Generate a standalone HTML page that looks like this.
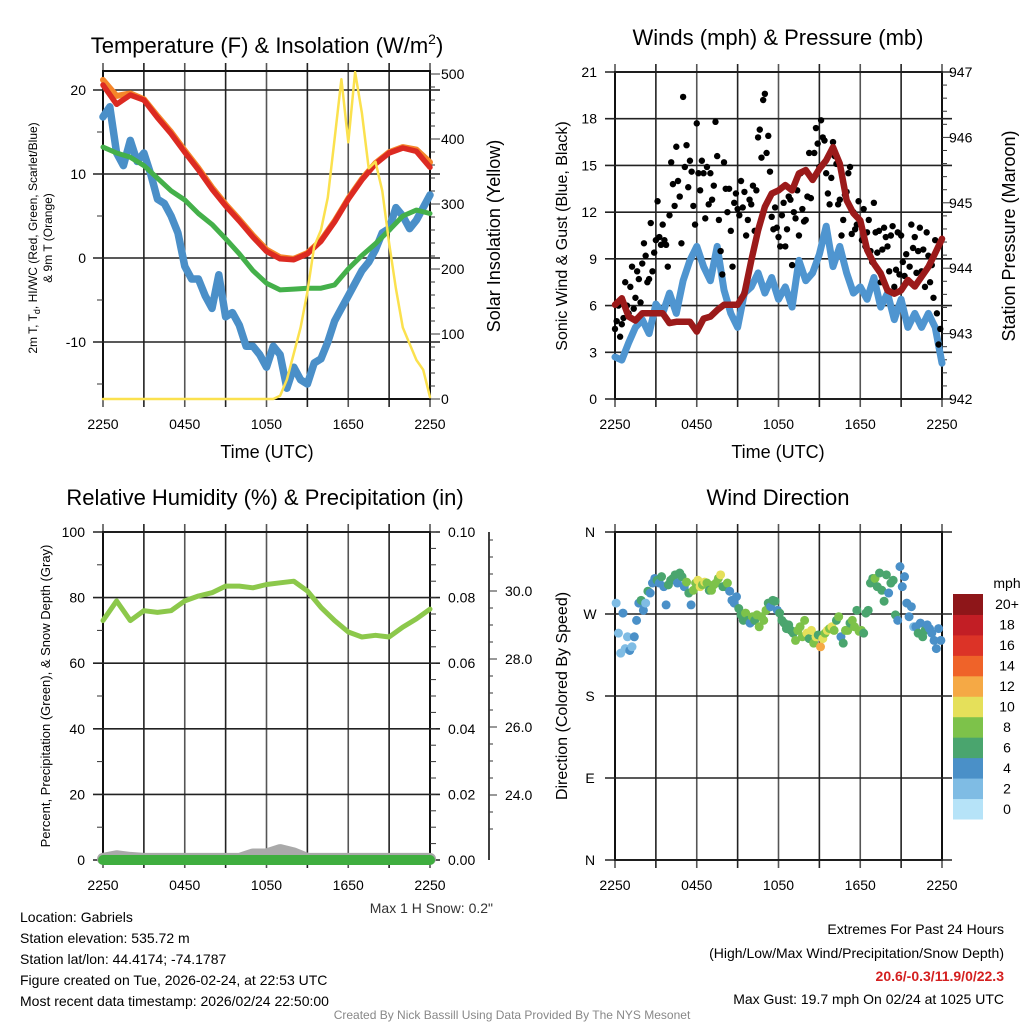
<!DOCTYPE html>
<html><head><meta charset="utf-8"><style>
body{margin:0;background:#fff}
svg{display:block;font-family:"Liberation Sans",sans-serif}
</style></head><body>
<svg id="chart" width="1024" height="1024" viewBox="0 0 1024 1024" xmlns="http://www.w3.org/2000/svg">
<rect x="0" y="0" width="1024" height="1024" fill="#fff"/>
<text x="267" y="53" font-size="22" text-anchor="middle">Temperature (F) &amp; Insolation (W/m<tspan font-size="14" dy="-9">2</tspan><tspan dy="9">)</tspan></text>
<text x="778" y="45" font-size="22" text-anchor="middle">Winds (mph) &amp; Pressure (mb)</text>
<text x="265" y="505" font-size="22" text-anchor="middle">Relative Humidity (%) &amp; Precipitation (in)</text>
<text x="778" y="505" font-size="22" text-anchor="middle">Wind Direction</text>
<text x="267" y="458" font-size="18" text-anchor="middle">Time (UTC)</text>
<text x="778" y="458" font-size="18" text-anchor="middle">Time (UTC)</text>
<text transform="translate(37,238) rotate(-90)" font-size="12" text-anchor="middle">2m T, T<tspan font-size="9" dy="3">d</tspan><tspan dy="-3">, HI/WC (Red, Green, Scarlet/Blue)</tspan></text>
<text transform="translate(52,238) rotate(-90)" font-size="12" text-anchor="middle">&amp; 9m T (Orange)</text>
<text transform="translate(500,236) rotate(-90)" font-size="18" text-anchor="middle">Solar Insolation (Yellow)</text>
<text transform="translate(567,236) rotate(-90)" font-size="16" text-anchor="middle">Sonic Wind &amp; Gust (Blue, Black)</text>
<text transform="translate(1015,236) rotate(-90)" font-size="18" text-anchor="middle">Station Pressure (Maroon)</text>
<text transform="translate(50,696) rotate(-90)" font-size="13" text-anchor="middle">Percent, Precipitation (Green), &amp; Snow Depth (Gray)</text>
<text transform="translate(567,696) rotate(-90)" font-size="16" text-anchor="middle">Direction (Colored By Speed)</text>
<text x="493" y="913" font-size="14" text-anchor="end" fill="#333">Max 1 H Snow: 0.2"</text>
<g font-size="14">
<text x="20" y="922">Location: Gabriels</text>
<text x="20" y="943">Station elevation: 535.72 m</text>
<text x="20" y="964">Station lat/lon: 44.4174; -74.1787</text>
<text x="20" y="985">Figure created on Tue, 2026-02-24, at 22:53 UTC</text>
<text x="20" y="1006">Most recent data timestamp: 2026/02/24 22:50:00</text>
</g>
<g font-size="14" text-anchor="end">
<text x="1004" y="934">Extremes For Past 24 Hours</text>
<text x="1004" y="958">(High/Low/Max Wind/Precipitation/Snow Depth)</text>
<text x="1004" y="981" fill="#d42020" font-weight="bold">20.6/-0.3/11.9/0/22.3</text>
<text x="1004" y="1004">Max Gust: 19.7 mph On 02/24 at 1025 UTC</text>
</g>
<text x="512" y="1019" font-size="12" text-anchor="middle" fill="#888">Created By Nick Bassill Using Data Provided By The NYS Mesonet</text>
</svg>
<script>
const timeLabels = ["2250","0450","1050","1650","2250"];
const tempTicks = [20,10,0,-10];
const solarTicks = [0,100,200,300,400,500];
const windTicks = [0,3,6,9,12,15,18,21];
const presTicks = [942,943,944,945,946,947];
const rhTicks = [0,20,40,60,80,100];
const precipTicks = ["0.00","0.02","0.04","0.06","0.08","0.10"];
const snowTicks = [24,26,28,30];
const dirTicks = ["N","E","S","W","N"];
const speedBins = ["0","2","4","6","8","10","12","14","16","18","20+"];
const speedColors = ["#b6e3f8","#7fbce4","#4a90c8","#4aa56e","#7dc24a","#e5e05a","#f5a945","#ef6329","#dc3327","#c21e25","#8e1619"];

const tempT = [20.6,18.3,19.4,18.8,16.7,14.8,12.6,10.5,8.2,6.2,4.4,2.5,0.8,-0.1,-0.2,0.5,2.0,4.3,7.0,9.3,11.2,12.5,13.1,12.7,10.8];
const temp9m = [21.2,19.3,19.6,18.9,16.9,15.0,12.8,10.7,8.4,6.4,4.6,2.7,1.0,0.1,-0.1,0.6,2.1,4.4,7.1,9.4,11.3,12.6,13.2,12.9,11.4];
const dewT = [13.2,12.5,12.0,11.0,9.5,8.0,6.9,5.3,4.0,2.3,0.5,-1.5,-3.0,-3.8,-3.7,-3.6,-3.6,-3.2,-1.3,0.3,1.7,3.3,5.0,5.7,5.3];
const windChill = [16.8,18.0,12.5,11.0,14.0,11.5,12.5,10.0,7.0,6.5,5.0,3.0,-1.0,-2.5,-2.5,-4.5,-6.0,-2.0,-7.0,-6.5,-8.0,-10.5,-10.5,-11.5,-13.0,-10.5,-11.5,-15.5,-13.0,-14.5,-15.0,-12.5,-12.0,-10.0,-7.5,-6.0,-4.5,-3.0,-1.5,-0.5,1.0,3.0,3.5,6.0,5.0,3.5,4.5,6.0,7.5];
const solar = [0,0,0,0,0,0,0,0,0,0,0,0,0,0,0,0,0,0,0,0,0,0,0,0,0,0,5,30,70,110,165,235,260,310,400,492,395,503,440,355,365,320,240,170,110,85,60,45,3];
const windSpd = [2.7,2.5,3.6,4.6,5.1,4.2,6.1,5.5,6.8,5.5,7.6,8.9,9.8,8.5,7.6,9.8,7.0,5.5,4.6,6.8,7.2,8.1,6.8,7.8,6.4,7.2,5.9,8.9,7.6,8.1,9.3,11.1,8.5,9.8,8.1,6.8,7.2,6.4,7.8,5.9,6.8,5.1,6.4,4.6,5.5,4.6,5.5,4.6,2.3];
const pressure = [943.44,943.54,943.26,943.2,943.31,943.31,943.31,943.31,943.16,943.18,943.18,943.18,943.03,943.23,943.26,943.36,943.44,943.44,943.44,943.61,944.12,944.58,944.94,945.14,945.19,945.27,945.19,945.45,945.5,945.35,945.52,945.65,945.85,945.6,945.04,944.84,944.73,944.28,944.07,943.92,943.66,943.61,943.66,943.82,943.72,943.87,944.02,944.23,944.45];
const gusts = [4.5,5,6,4,4.8,5.2,7.5,6, 5.5,7.2,8.5,5.8,6.5,8.2,7.7,6.2, 8.7,10,9.2,7.5,7.7,11.3,8.2,9.4, 10.2,12.7,10.4,9.9,11.2,10.2,9.9,8.5,
 11.8,15.2,13.8,12.4,16.2,14,13,10, 19.4,14.9,16.3,13.6,15.3,14.6,12.4,11.2, 17.7,14.5,13.4,15.3,14.5,11.6,14.9,12.5, 14.5,12.8,13.7,17.8,15.6,11.5,9.5,8,
 15.2,13.5,12,13.5,10.8,8.5,12.6,13.2, 12.2,11.8,14,12.3,13.3,10.5,11.5,12.8, 12.5,13.7,10.8,13.4,16.8,17.3,15.5,19.2, 19.6,15.8,16.9,14.6,11.7,10.9,12.3,11,
 10.4,9.8,11.8,12.6,9.8,10.9,13,12.8, 8.6,12,11.6,13.4,10.5,14.5,12.2,11.4, 11.5,13,15.8,12.9,14.2,15.8,17.4,16.4, 14.9,17.9,16.8,16.6,14.5,13.2,12.5,14.2,
 16.5,15.6,15.1,12.5,12.8,10.5,11.5,13.1, 13.3,14.5,14.9,10.6,12,10.9,11.2,12.7, 11.3,10.2,12.2,9.8,10.7,11.5,9.5,8.8, 12.6,10.7,9.4,10.8,7.5,9.6,11,10.4,
 9.8,8.2,10.5,11.1,7.2,8.3,10.7,8, 10.5,8.8,7.9,9.3,7.5,8.5,11.2,9.7, 10.4,8.1,9.5,11,8.2,9.6,7.2,10.7, 9.2,7.5,8.6,6.5,10.2,5.5,3.5,4.5];
const rh = [73,79,73,76,75.5,76,79,80.5,81.5,83.5,83.5,83,84,84.5,85,82,77,73,69.5,68,68.5,68,71,73.5,76.5];
const precip = [0,0,0,0,0,0,0,0,0,0,0,0,0,0,0,0,0,0,0,0,0,0,0,0,0];
const snowDepth = [22.12,22.2,22.15,22.12,22.12,22.12,22.12,22.12,22.12,22.12,22.12,22.25,22.25,22.38,22.28,22.12,22.12,22.12,22.12,22.12,22.12,22.12,22.12,22.12,22.12];
const windDir = [282,249,227,271,232,245, 230,234,245,263,282,285, 274,282,295,293,304,309, 307,304,311,300,280,302,
 307,309,313,304,315,311, 300,305,293,280,296,304, 307,300,302,305,304,296, 296,302,304,309,313,300,
 300,304,295,285,282,289, 276,269,263,271,263,260, 267,263,269,256,267,263, 274,282,278,285,284,274,
 271,263,260,254,258,252, 249,241,252,256,245,263, 249,243,252,238,245,247, 234,243,249,252,254,256,
 252,263,267,245,238,252, 252,260,263,256,274,251, 252,249,271,274,304,309, 309,300,315,296,284,313,
 293,304,307,269,263,322, 300,311,282,267,278,256, 256,249,260,245,252,258, 254,249,241,232,254,241];
const dirSpeed = [2,3,2,4,2,2, 4,3,4,4,4,6, 4,2,6,4,4,4, 6,4,6,4,4,6, 6,6,6,4,6,6, 4,8,6,4,8,8, 10,10,8,10,8,6, 8,8,8,8,10,6,
 6,8,4,4,4,4, 6,6,6,8,6,4, 8,6,8,8,8,8, 8,6,4,6,6,4, 6,6,6,6,6,6, 6,8,8,8,8,8, 10,6,10,8,10,6, 12,10,8,10,8,10,
 8,6,8,4,6,8, 8,6,8,8,6,8, 8,6,6,6,6,6, 8,6,6,6,6,6, 4,6,6,6,4,4, 4,4,4,4,4,2, 4,6,4,6,6,4, 4,4,4,4,4,4];

const NS = "http://www.w3.org/2000/svg";
const svg = document.getElementById('chart');
function mk(tag, attrs, parent){
  const e = document.createElementNS(NS, tag);
  for (const k in attrs) e.setAttribute(k, attrs[k]);
  (parent || svg).appendChild(e);
  return e;
}
function txt(x, y, s, anchor, size, parent){
  const t = mk('text', {x:x, y:y, 'text-anchor':anchor, 'font-size':size}, parent);
  t.textContent = s;
  return t;
}
const P1 = {x0:103,x1:430,y0:71,y1:399};
const P2 = {x0:615,x1:942,y0:72,y1:399};
const P3 = {x0:103,x1:430,y0:532,y1:860};
const P4 = {x0:615,x1:942,y0:532,y1:860};
function xScale(P){ return h => P.x0 + h*(P.x1-P.x0)/24; }
const yTemp = v => 258 - 8.4*v;
const ySolar = v => 399 - 0.65*v;
const yWind = v => 399 - v*327/21;
const yPres = v => 399 - (v-942)*65.4;
const yRH = v => 860 - 3.28*v;
const yPrecip = v => 860 - v*3280;
const ySnow = v => 591 + (30-v)*34;
const yDir = v => 860 - v*328/360;

function frame(P, name){
  const g = mk('g', {});
  
  
  for (let i=0;i<=8;i++){
    const x = P.x0 + i*(P.x1-P.x0)/8;
    const l = mk('line', {x1:x, x2:x, y1:P.y0-8, y2:P.y1+8, stroke: i%2? '#222':'#555', 'stroke-width':1.6}, g);
    
    
  }
  const r = mk('rect', {x:P.x0, y:P.y0, width:P.x1-P.x0, height:P.y1-P.y0, fill:'none', stroke:'#111', 'stroke-width':2}, g);
  
  
  const xs = xScale(P);
  timeLabels.forEach((s,i)=>{
    const t = txt(xs(i*6), P.y1+30, s, 'middle', 14, g);
    
    
  });
  return g;
}
function hgrid(P, y, name){
  const l = mk('line', {x1:P.x0-10, x2:P.x1+10, y1:y, y2:y, stroke:'#222', 'stroke-width':1.6});
  
  
}
function tick(x1,x2,y,name){
  const l = mk('line', {x1:x1, x2:x2, y1:y, y2:y, stroke:'#333', 'stroke-width':1});
  
  
}
function series(arr, step, xs, ys, color, w, name){
  const pts = arr.map((v,i)=> xs(i*step).toFixed(1)+','+ys(v).toFixed(1)).join(' ');
  const p = mk('polyline', {points:pts, fill:'none', stroke:color, 'stroke-width':w, 'stroke-linejoin':'round', 'stroke-linecap':'round'});
  
  
  return p;
}

// Panel 1
frame(P1, 'temp-panel');
const x1s = xScale(P1);
tempTicks.forEach(v=>{
  hgrid(P1, yTemp(v), 'temp-hgrid');
  const t = txt(P1.x0-17, yTemp(v)+5, v, 'end', 14);
  
  
});
[15,5,-5,-15].forEach(v=> tick(P1.x0-6, P1.x0, yTemp(v), 'temp-minor-tick'));
for (let v=0; v<=500; v+=20) tick(P1.x1, P1.x1+(v%100===0?10:5), ySolar(v), 'solar-tick');
solarTicks.forEach(v=>{
  const t = txt(P1.x1+11, ySolar(v)+5, v, 'start', 14);
  
  
});
series(temp9m, 1, x1s, yTemp, '#f5862a', 6, 'temp-9m-line');
series(windChill, 0.5, x1s, yTemp, '#4a8fc8', 7.5, 'wind-chill-line');
series(dewT, 1, x1s, yTemp, '#44b04a', 5, 'dewpoint-line');
series(tempT, 1, x1s, yTemp, '#dc2a22', 5.5, 'temperature-line');
series(solar, 0.5, x1s, ySolar, '#fbe14e', 2.5, 'solar-line');

// Panel 2
frame(P2, 'wind-panel');
const x2s = xScale(P2);
windTicks.forEach(v=>{
  hgrid(P2, yWind(v), 'wind-hgrid');
  const t = txt(P2.x0-18, yWind(v)+5, v, 'end', 14);
  
  
});
for (let v=942; v<=947.001; v+=0.2) tick(P2.x1, P2.x1+(Math.abs(v-Math.round(v))<0.01?10:5), yPres(v), 'pressure-tick');
presTicks.forEach(v=>{
  const t = txt(P2.x1+7, yPres(v)+5, v, 'start', 14);
  
  
});
series(windSpd, 0.5, x2s, yWind, '#4f95d0', 7, 'wind-speed-line');
gusts.forEach((v,i)=>{
  const c = mk('circle', {cx:x2s(i/8), cy:yWind(v), r:3.2, fill:'#000'});
  
  
});
series(pressure, 0.5, x2s, yPres, '#9b1a1a', 6.5, 'pressure-line');

// Panel 3
frame(P3, 'humidity-panel');
const x3s = xScale(P3);
rhTicks.forEach((v,i)=>{
  hgrid(P3, yRH(v), 'rh-hgrid');
  const t = txt(P3.x0-18, yRH(v)+5, v, 'end', 14);
  
  
  const t2 = txt(P3.x1+18, yRH(v)+5, precipTicks[i], 'start', 14);
  
  
});
[10,30,50,70,90].forEach(v=> tick(P3.x0-6, P3.x0, yRH(v), 'rh-minor-tick'));
for (let v=0; v<=100; v+=5) tick(P3.x1, P3.x1+6, yRH(v), 'precip-minor-tick');
const snowAxis = mk('line', {x1:489, x2:489, y1:532, y2:860, stroke:'#111', 'stroke-width':1.6});


for (let v=23; v<=31.6; v+=0.5){ const y=ySnow(v); if (y>=532 && y<=860) tick(489, 489+(Number.isInteger(v)&&v%2===0?8:4), y, 'snow-tick'); }
snowTicks.forEach(v=>{
  const t = txt(505, ySnow(v)+5, v.toFixed(1), 'start', 14);
  
  
});
series(snowDepth, 1, x3s, ySnow, '#a9a9a9', 12, 'snow-depth-line');
series(precip, 1, x3s, yPrecip, '#3fae3f', 10, 'precip-line');
series(rh, 1, x3s, yRH, '#8cc84b', 5, 'rh-line');

// Panel 4
frame(P4, 'direction-panel');
const x4s = xScale(P4);
dirTicks.forEach((s,i)=>{
  hgrid(P4, yDir(i*90), 'dir-hgrid');
  const t = txt(590, yDir(i*90)+5, s, 'middle', 14);
  
  
});
windDir.forEach((d,i)=>{
  const bin = Math.min(10, Math.floor(dirSpeed[i]/2));
  const c = mk('circle', {cx:x4s(i/6+1/12), cy:yDir(d), r:4.5, fill:speedColors[bin]});
  
  
});
const cbTop = 594, cbH = 225/11;
speedBins.forEach((s,i)=>{
  const y = cbTop + (10-i)*cbH;
  const r = mk('rect', {x:953, y:y, width:30, height:cbH+0.5, fill:speedColors[i]});
  
  
  const t = txt(1007, y+cbH/2+5, s, 'middle', 14);
  
  
});
const mph = txt(1007, 588, 'mph', 'middle', 14);


</script>
</body></html>
